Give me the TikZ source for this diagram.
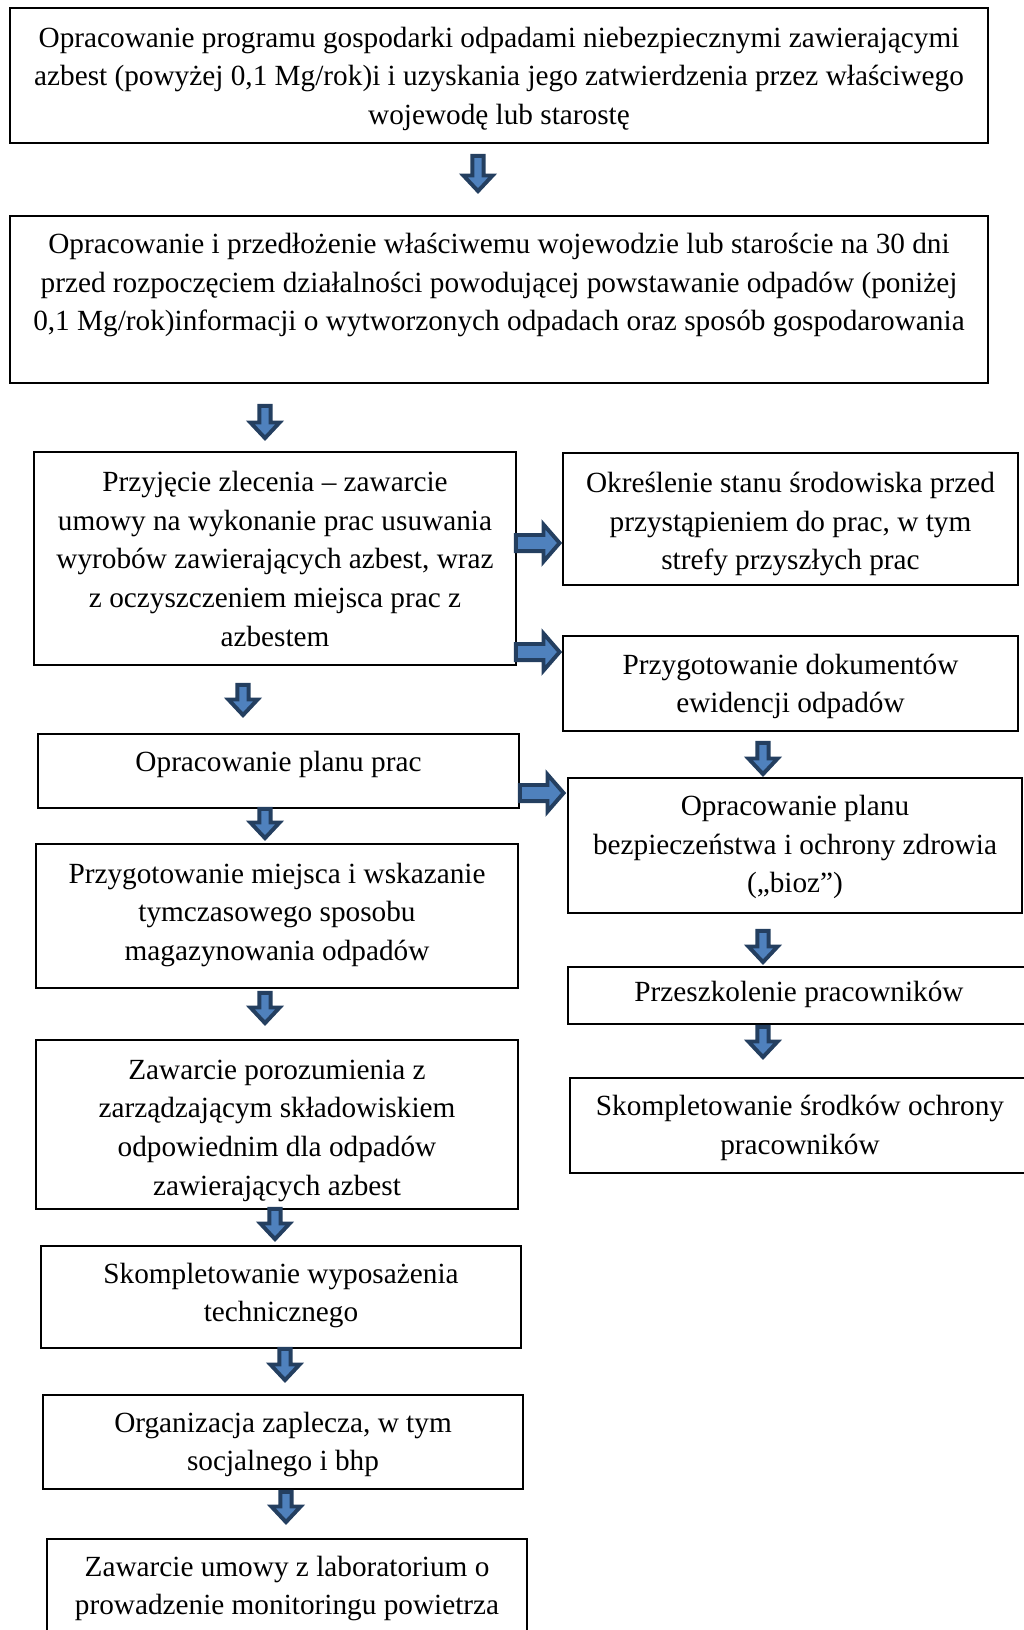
\documentclass[tikz,border=0pt]{standalone}
\usepackage{fontspec}
\setmainfont{Liberation Serif}
\usetikzlibrary{calc}
\definecolor{arrowfill}{RGB}{79,129,189}
\definecolor{arrowline}{RGB}{36,63,96}
\tikzset{
  stepbox/.style={draw=black, line width=0.8pt, align=center, inner sep=0pt,
    font=\fontsize{12pt}{15.8pt}\selectfont,
    execute at end node={\rule[-4pt]{0pt}{4pt}}},
  textdown/.style={text height=#1},
  textup/.style={execute at end node={\rule[-#1]{0pt}{#1}}},
  boxsize/.style 2 args={minimum width=#1*0.41pt, minimum height=#2*0.41pt},
  arrowpaint/.style={draw=arrowline, fill=arrowfill, line width=1.6pt, line join=miter},
  downarrow/.style={arrowpaint, to path={let \p1=(\tikztostart), \p2=(\tikztotarget) in
    (\x1-2.3pt,\y1-0.8pt) -- (\x1+2.3pt,\y1-0.8pt) -- (\x1+2.3pt,\y2+7.6pt)
    -- (\x1+6pt,\y2+7.6pt) -- (\x1,\y2+1.2pt) -- (\x1-6pt,\y2+7.6pt)
    -- (\x1-2.3pt,\y2+7.6pt) -- cycle}},
  rightarrow/.style={arrowpaint, to path={let \p1=(\tikztostart), \p2=(\tikztotarget) in
    (\x1+0.8pt,\y1+3.3pt) -- (\x2-7.6pt,\y1+3.3pt) -- (\x2-7.6pt,\y1+7.6pt)
    -- (\x2-1pt,\y1) -- (\x2-7.6pt,\y1-7.6pt) -- (\x2-7.6pt,\y1-3.3pt)
    -- (\x1+0.8pt,\y1-3.3pt) -- cycle}}
}
\begin{document}
\begin{tikzpicture}[x=0.41pt,y=-0.41pt]
\useasboundingbox (0,0) rectangle (1023,1630);
\node[stepbox,boxsize={978}{135},textdown=44.2pt] (prog) at (499,75.5) {Opracowanie programu gospodarki odpadami niebezpiecznymi zawierającymi\\ azbest (powyżej 0,1 Mg/rok)i i uzyskania jego zatwierdzenia przez właściwego\\ wojewodę lub starostę};
\node[stepbox,boxsize={978}{167},textdown=61.8pt] (info) at (499,299.5) {Opracowanie i przedłożenie właściwemu wojewodzie lub staroście na 30 dni\\ przed rozpoczęciem działalności powodującej powstawanie odpadów (poniżej\\ 0,1 Mg/rok)informacji o wytworzonych odpadach oraz sposób gospodarowania\\ \strut};
\node[stepbox,boxsize={482}{213},textdown=75.8pt] (zlec) at (275,558.5) {Przyjęcie zlecenia – zawarcie\\ umowy na wykonanie prac usuwania\\ wyrobów zawierających azbest, wraz\\ z oczyszczeniem miejsca prac z\\ azbestem};
\node[stepbox,boxsize={455}{132},textdown=45.6pt] (stan) at (790.5,519) {Określenie stanu środowiska przed\\ przystąpieniem do prac, w tym\\ strefy przyszłych prac};
\node[stepbox,boxsize={455}{95},textdown=28pt] (dok) at (790.5,683.5) {Przygotowanie dokumentów\\ ewidencji odpadów};
\node[stepbox,boxsize={481}{74},textup=8pt] (plan) at (278.5,771) {Opracowanie planu prac};
\node[stepbox,boxsize={454}{135},textdown=42.8pt] (bioz) at (795,845.5) {Opracowanie planu\\ bezpieczeństwa i ochrony zdrowia\\ („bioz”)};
\node[stepbox,boxsize={462}{57},textdown=9.2pt] (szkol) at (799,995.5) {Przeszkolenie pracowników};
\node[stepbox,boxsize={460}{95},textdown=27.6pt] (srodki) at (800,1125.5) {Skompletowanie środków ochrony\\ pracowników};
\node[stepbox,boxsize={482}{144},textup=5.2pt,textdown=41.7pt] (miejsce) at (277,916) {Przygotowanie miejsca i wskazanie\\ tymczasowego sposobu\\ magazynowania odpadów};
\node[stepbox,boxsize={482}{169},textdown=61.8pt] (poroz) at (277,1124.5) {Zawarcie porozumienia z\\ zarządzającym składowiskiem\\ odpowiednim dla odpadów\\ zawierających azbest};
\node[stepbox,boxsize={480}{102}] (wypos) at (281,1297) {Skompletowanie wyposażenia\\ technicznego};
\node[stepbox,boxsize={480}{94},textdown=27.6pt] (zaplecze) at (283,1442) {Organizacja zaplecza, w tym\\ socjalnego i bhp};
\node[stepbox,boxsize={480}{94},textdown=27.6pt] (labor) at (287,1586) {Zawarcie umowy z laboratorium o\\ prowadzenie monitoringu powietrza};
\draw[downarrow] ($(prog.south)+(-21,10)$) to ($(info.north)+(-21,-21)$);
\draw[downarrow] ($(info.south)+(-234,20)$) to ($(zlec.north)+(-10,-10)$);
\draw[downarrow] ($(zlec.south)+(-32,17)$) to ($(plan.north)+(-35.5,-15)$);
\draw[downarrow] ($(plan.south)+(-13.5,-2)$) to ($(miejsce.north)+(-12,-2)$);
\draw[downarrow] ($(miejsce.south)+(-12,2)$) to ($(poroz.north)+(-12,-13)$);
\draw[downarrow] ($(poroz.south)+(-2,-3)$) to ($(wypos.north)+(-6,-3)$);
\draw[downarrow] ($(wypos.south)+(4,-2)$) to ($(zaplecze.north)+(2,-11)$);
\draw[downarrow] ($(zaplecze.south)+(3,0)$) to ($(labor.north)+(-1,-13)$);
\draw[downarrow] ($(dok.south)+(-27.5,9)$) to ($(bioz.north)+(-32,0)$);
\draw[downarrow] ($(bioz.south)+(-32,15)$) to ($(szkol.north)+(-36,-1)$);
\draw[downarrow] ($(szkol.south)+(-36,0)$) to ($(srodki.north)+(-37,-17)$);
\draw[rightarrow] ($(zlec.east)+(-3,-15.5)$) to ($(stan.west)+(0,24)$);
\draw[rightarrow] ($(zlec.east)+(-3,93.5)$) to ($(dok.west)+(0,-31.5)$);
\draw[rightarrow] ($(plan.east)+(-2,22)$) to ($(bioz.west)+(-1,-52.5)$);
\end{tikzpicture}
\end{document}
